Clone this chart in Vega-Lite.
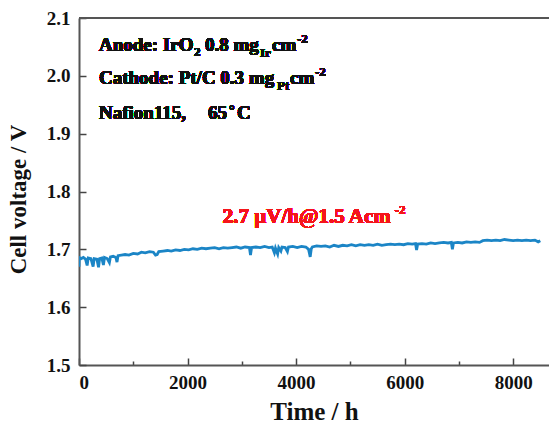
{
  "$schema": "https://vega.github.io/schema/vega-lite/v6.json",
  "width": 470,
  "height": 347,
  "autosize": "none",
  "padding": {"left": 79, "top": 18, "right": 0, "bottom": 62},
  "background": "white",
  "config": {
    "view": {"stroke": null},
    "axis": {
      "labelFont": "Liberation Serif",
      "labelFontWeight": "bold",
      "labelFontSize": 19,
      "labelColor": "#111",
      "titleFont": "Liberation Serif",
      "titleFontWeight": "bold",
      "titleColor": "#111",
      "domainColor": "#555",
      "domainWidth": 2,
      "tickColor": "#444",
      "tickWidth": 1.5,
      "grid": false
    }
  },
  "data": {
    "values": [
      {"t": 0, "v": 1.670}, {"t": 5, "v": 1.686}, {"t": 40, "v": 1.684}, {"t": 80, "v": 1.686},
      {"t": 120, "v": 1.683}, {"t": 150, "v": 1.672}, {"t": 170, "v": 1.685}, {"t": 220, "v": 1.684},
      {"t": 260, "v": 1.670}, {"t": 280, "v": 1.684}, {"t": 330, "v": 1.683}, {"t": 360, "v": 1.669},
      {"t": 380, "v": 1.684}, {"t": 420, "v": 1.685}, {"t": 450, "v": 1.673}, {"t": 470, "v": 1.686},
      {"t": 520, "v": 1.684}, {"t": 560, "v": 1.677}, {"t": 580, "v": 1.687}, {"t": 630, "v": 1.688},
      {"t": 680, "v": 1.686}, {"t": 700, "v": 1.678}, {"t": 720, "v": 1.689}, {"t": 780, "v": 1.690},
      {"t": 850, "v": 1.691}, {"t": 920, "v": 1.690}, {"t": 1000, "v": 1.693}, {"t": 1080, "v": 1.692},
      {"t": 1150, "v": 1.695}, {"t": 1220, "v": 1.694}, {"t": 1300, "v": 1.696}, {"t": 1370, "v": 1.695},
      {"t": 1410, "v": 1.690}, {"t": 1440, "v": 1.691}, {"t": 1470, "v": 1.696}, {"t": 1550, "v": 1.697},
      {"t": 1630, "v": 1.698}, {"t": 1700, "v": 1.697}, {"t": 1780, "v": 1.699}, {"t": 1860, "v": 1.698},
      {"t": 1940, "v": 1.700}, {"t": 2020, "v": 1.699}, {"t": 2100, "v": 1.701}, {"t": 2180, "v": 1.700},
      {"t": 2260, "v": 1.702}, {"t": 2340, "v": 1.701}, {"t": 2420, "v": 1.702}, {"t": 2500, "v": 1.703},
      {"t": 2580, "v": 1.701}, {"t": 2660, "v": 1.703}, {"t": 2740, "v": 1.702}, {"t": 2820, "v": 1.703},
      {"t": 2900, "v": 1.704}, {"t": 2980, "v": 1.702}, {"t": 3060, "v": 1.704}, {"t": 3140, "v": 1.703},
      {"t": 3160, "v": 1.690}, {"t": 3180, "v": 1.703}, {"t": 3260, "v": 1.704}, {"t": 3340, "v": 1.703},
      {"t": 3420, "v": 1.705}, {"t": 3500, "v": 1.703}, {"t": 3560, "v": 1.704}, {"t": 3600, "v": 1.694},
      {"t": 3620, "v": 1.702}, {"t": 3660, "v": 1.692}, {"t": 3680, "v": 1.703}, {"t": 3720, "v": 1.697},
      {"t": 3740, "v": 1.704}, {"t": 3800, "v": 1.703}, {"t": 3840, "v": 1.696}, {"t": 3860, "v": 1.704},
      {"t": 3940, "v": 1.705}, {"t": 4020, "v": 1.703}, {"t": 4100, "v": 1.705}, {"t": 4180, "v": 1.704},
      {"t": 4230, "v": 1.700}, {"t": 4260, "v": 1.687}, {"t": 4280, "v": 1.701}, {"t": 4300, "v": 1.704},
      {"t": 4380, "v": 1.706}, {"t": 4460, "v": 1.705}, {"t": 4540, "v": 1.706}, {"t": 4620, "v": 1.704},
      {"t": 4700, "v": 1.707}, {"t": 4780, "v": 1.705}, {"t": 4860, "v": 1.707}, {"t": 4940, "v": 1.706},
      {"t": 5020, "v": 1.708}, {"t": 5100, "v": 1.706}, {"t": 5180, "v": 1.708}, {"t": 5260, "v": 1.707},
      {"t": 5340, "v": 1.708}, {"t": 5420, "v": 1.707}, {"t": 5500, "v": 1.709}, {"t": 5580, "v": 1.707},
      {"t": 5660, "v": 1.708}, {"t": 5740, "v": 1.709}, {"t": 5820, "v": 1.708}, {"t": 5900, "v": 1.709},
      {"t": 5980, "v": 1.708}, {"t": 6060, "v": 1.710}, {"t": 6140, "v": 1.709}, {"t": 6200, "v": 1.710},
      {"t": 6220, "v": 1.699}, {"t": 6240, "v": 1.709}, {"t": 6320, "v": 1.710}, {"t": 6400, "v": 1.709},
      {"t": 6480, "v": 1.711}, {"t": 6560, "v": 1.710}, {"t": 6640, "v": 1.711}, {"t": 6720, "v": 1.712},
      {"t": 6800, "v": 1.711}, {"t": 6860, "v": 1.712}, {"t": 6880, "v": 1.700}, {"t": 6900, "v": 1.711},
      {"t": 6980, "v": 1.712}, {"t": 7060, "v": 1.711}, {"t": 7140, "v": 1.713}, {"t": 7220, "v": 1.712},
      {"t": 7300, "v": 1.713}, {"t": 7380, "v": 1.712}, {"t": 7440, "v": 1.715}, {"t": 7520, "v": 1.716},
      {"t": 7600, "v": 1.715}, {"t": 7680, "v": 1.716}, {"t": 7760, "v": 1.715}, {"t": 7840, "v": 1.717},
      {"t": 7920, "v": 1.716}, {"t": 8000, "v": 1.715}, {"t": 8080, "v": 1.716}, {"t": 8160, "v": 1.715},
      {"t": 8240, "v": 1.716}, {"t": 8320, "v": 1.715}, {"t": 8400, "v": 1.716}, {"t": 8460, "v": 1.713},
      {"t": 8500, "v": 1.715}
    ]
  },
  "layer": [
    {
      "mark": {"type": "line", "color": "#1b85c6", "strokeWidth": 2.8, "clip": true},
      "encoding": {
        "x": {
          "field": "t", "type": "quantitative",
          "scale": {"domain": [0, 8660], "nice": false, "zero": false},
          "axis": {
            "values": [0, 1000, 2000, 3000, 4000, 5000, 6000, 7000, 8000],
            "labelExpr": "datum.value % 2000 === 0 ? datum.label : ''",
            "format": "d",
            "tickSize": {"condition": {"test": "datum.value % 2000 === 0", "value": -7}, "value": -4},
            "labelPadding": 15,
            "title": "Time / h",
            "titleFontSize": 25,
            "titlePadding": 7
          }
        },
        "y": {
          "field": "v", "type": "quantitative",
          "scale": {"domain": [1.5, 2.1], "nice": false, "zero": false},
          "axis": {
            "values": [1.5, 1.55, 1.6, 1.65, 1.7, 1.75, 1.8, 1.85, 1.9, 1.95, 2.0, 2.05, 2.1],
            "labelExpr": "abs(datum.value * 10 - round(datum.value * 10)) < 0.01 ? format(datum.value, '.1f') : ''",
            "tickSize": {"condition": {"test": "abs(datum.value * 10 - round(datum.value * 10)) < 0.01", "value": -7}, "value": -4},
            "labelPadding": 16,
            "title": "Cell voltage / V",
            "titleFontSize": 23,
            "titlePadding": 16,
            "titleY": 181
          }
        }
      }
    },
    {
      "mark": {"type": "rule", "color": "#555", "strokeWidth": 2},
      "encoding": {"y": {"datum": 2.1, "type": "quantitative"}}
    },
    {
      "mark": {"type": "text", "text": "Anode: IrO", "align": "left", "baseline": "alphabetic", "font": "Liberation Serif", "fontWeight": "bold", "fontSize": 19, "color": "#111"},
      "encoding": {"x": {"datum": 368, "type": "quantitative"}, "y": {"datum": 2.0435, "type": "quantitative"}}
    },
    {
      "mark": {"type": "text", "text": "2", "align": "left", "baseline": "alphabetic", "font": "Liberation Serif", "fontWeight": "bold", "fontSize": 13, "dx": 95, "dy": 5, "color": "#111"},
      "encoding": {"x": {"datum": 368, "type": "quantitative"}, "y": {"datum": 2.0435, "type": "quantitative"}}
    },
    {
      "mark": {"type": "text", "text": "0.8 mg", "align": "left", "baseline": "alphabetic", "font": "Liberation Serif", "fontWeight": "bold", "fontSize": 19, "dx": 106, "color": "#111"},
      "encoding": {"x": {"datum": 368, "type": "quantitative"}, "y": {"datum": 2.0435, "type": "quantitative"}}
    },
    {
      "mark": {"type": "text", "text": "Ir", "align": "left", "baseline": "alphabetic", "font": "Liberation Serif", "fontWeight": "bold", "fontSize": 13, "dx": 161, "dy": 6, "color": "#111"},
      "encoding": {"x": {"datum": 368, "type": "quantitative"}, "y": {"datum": 2.0435, "type": "quantitative"}}
    },
    {
      "mark": {"type": "text", "text": "cm", "align": "left", "baseline": "alphabetic", "font": "Liberation Serif", "fontWeight": "bold", "fontSize": 19, "dx": 173, "color": "#111"},
      "encoding": {"x": {"datum": 368, "type": "quantitative"}, "y": {"datum": 2.0435, "type": "quantitative"}}
    },
    {
      "mark": {"type": "text", "text": "-2", "align": "left", "baseline": "alphabetic", "font": "Liberation Serif", "fontWeight": "bold", "fontSize": 13, "dx": 198, "dy": -8, "color": "#111"},
      "encoding": {"x": {"datum": 368, "type": "quantitative"}, "y": {"datum": 2.0435, "type": "quantitative"}}
    },
    {
      "mark": {"type": "text", "text": "Cathode: Pt/C 0.3 mg", "align": "left", "baseline": "alphabetic", "font": "Liberation Serif", "fontWeight": "bold", "fontSize": 19, "color": "#111"},
      "encoding": {"x": {"datum": 368, "type": "quantitative"}, "y": {"datum": 1.9859, "type": "quantitative"}}
    },
    {
      "mark": {"type": "text", "text": "Pt", "align": "left", "baseline": "alphabetic", "font": "Liberation Serif", "fontWeight": "bold", "fontSize": 13, "dx": 178, "dy": 6, "color": "#111"},
      "encoding": {"x": {"datum": 368, "type": "quantitative"}, "y": {"datum": 1.9859, "type": "quantitative"}}
    },
    {
      "mark": {"type": "text", "text": "cm", "align": "left", "baseline": "alphabetic", "font": "Liberation Serif", "fontWeight": "bold", "fontSize": 19, "dx": 191, "color": "#111"},
      "encoding": {"x": {"datum": 368, "type": "quantitative"}, "y": {"datum": 1.9859, "type": "quantitative"}}
    },
    {
      "mark": {"type": "text", "text": "-2", "align": "left", "baseline": "alphabetic", "font": "Liberation Serif", "fontWeight": "bold", "fontSize": 13, "dx": 216, "dy": -8, "color": "#111"},
      "encoding": {"x": {"datum": 368, "type": "quantitative"}, "y": {"datum": 1.9859, "type": "quantitative"}}
    },
    {
      "mark": {"type": "text", "text": "Nafion115,", "align": "left", "baseline": "alphabetic", "font": "Liberation Serif", "fontWeight": "bold", "fontSize": 19, "color": "#111"},
      "encoding": {"x": {"datum": 368, "type": "quantitative"}, "y": {"datum": 1.9259, "type": "quantitative"}}
    },
    {
      "mark": {"type": "text", "text": "65", "align": "left", "baseline": "alphabetic", "font": "Liberation Serif", "fontWeight": "bold", "fontSize": 19, "dx": 109, "color": "#111"},
      "encoding": {"x": {"datum": 368, "type": "quantitative"}, "y": {"datum": 1.9259, "type": "quantitative"}}
    },
    {
      "mark": {"type": "text", "text": "°", "align": "left", "baseline": "alphabetic", "font": "Liberation Serif", "fontWeight": "bold", "fontSize": 14, "dx": 130, "dy": -4, "color": "#111"},
      "encoding": {"x": {"datum": 368, "type": "quantitative"}, "y": {"datum": 1.9259, "type": "quantitative"}}
    },
    {
      "mark": {"type": "text", "text": "C", "align": "left", "baseline": "alphabetic", "font": "Liberation Serif", "fontWeight": "bold", "fontSize": 19, "dx": 138, "color": "#111"},
      "encoding": {"x": {"datum": 368, "type": "quantitative"}, "y": {"datum": 1.9259, "type": "quantitative"}}
    },
    {
      "mark": {"type": "text", "text": "2.7 µV/h@1.5 Acm", "align": "left", "baseline": "alphabetic", "font": "Liberation Serif", "fontWeight": "bold", "fontSize": 21, "color": "#f5151b"},
      "encoding": {"x": {"datum": 2648, "type": "quantitative"}, "y": {"datum": 1.7455, "type": "quantitative"}}
    },
    {
      "mark": {"type": "text", "text": "-2", "align": "left", "baseline": "alphabetic", "font": "Liberation Serif", "fontWeight": "bold", "fontSize": 13, "dx": 172, "dy": -9, "color": "#f5151b"},
      "encoding": {"x": {"datum": 2648, "type": "quantitative"}, "y": {"datum": 1.7455, "type": "quantitative"}}
    }
  ]
}
